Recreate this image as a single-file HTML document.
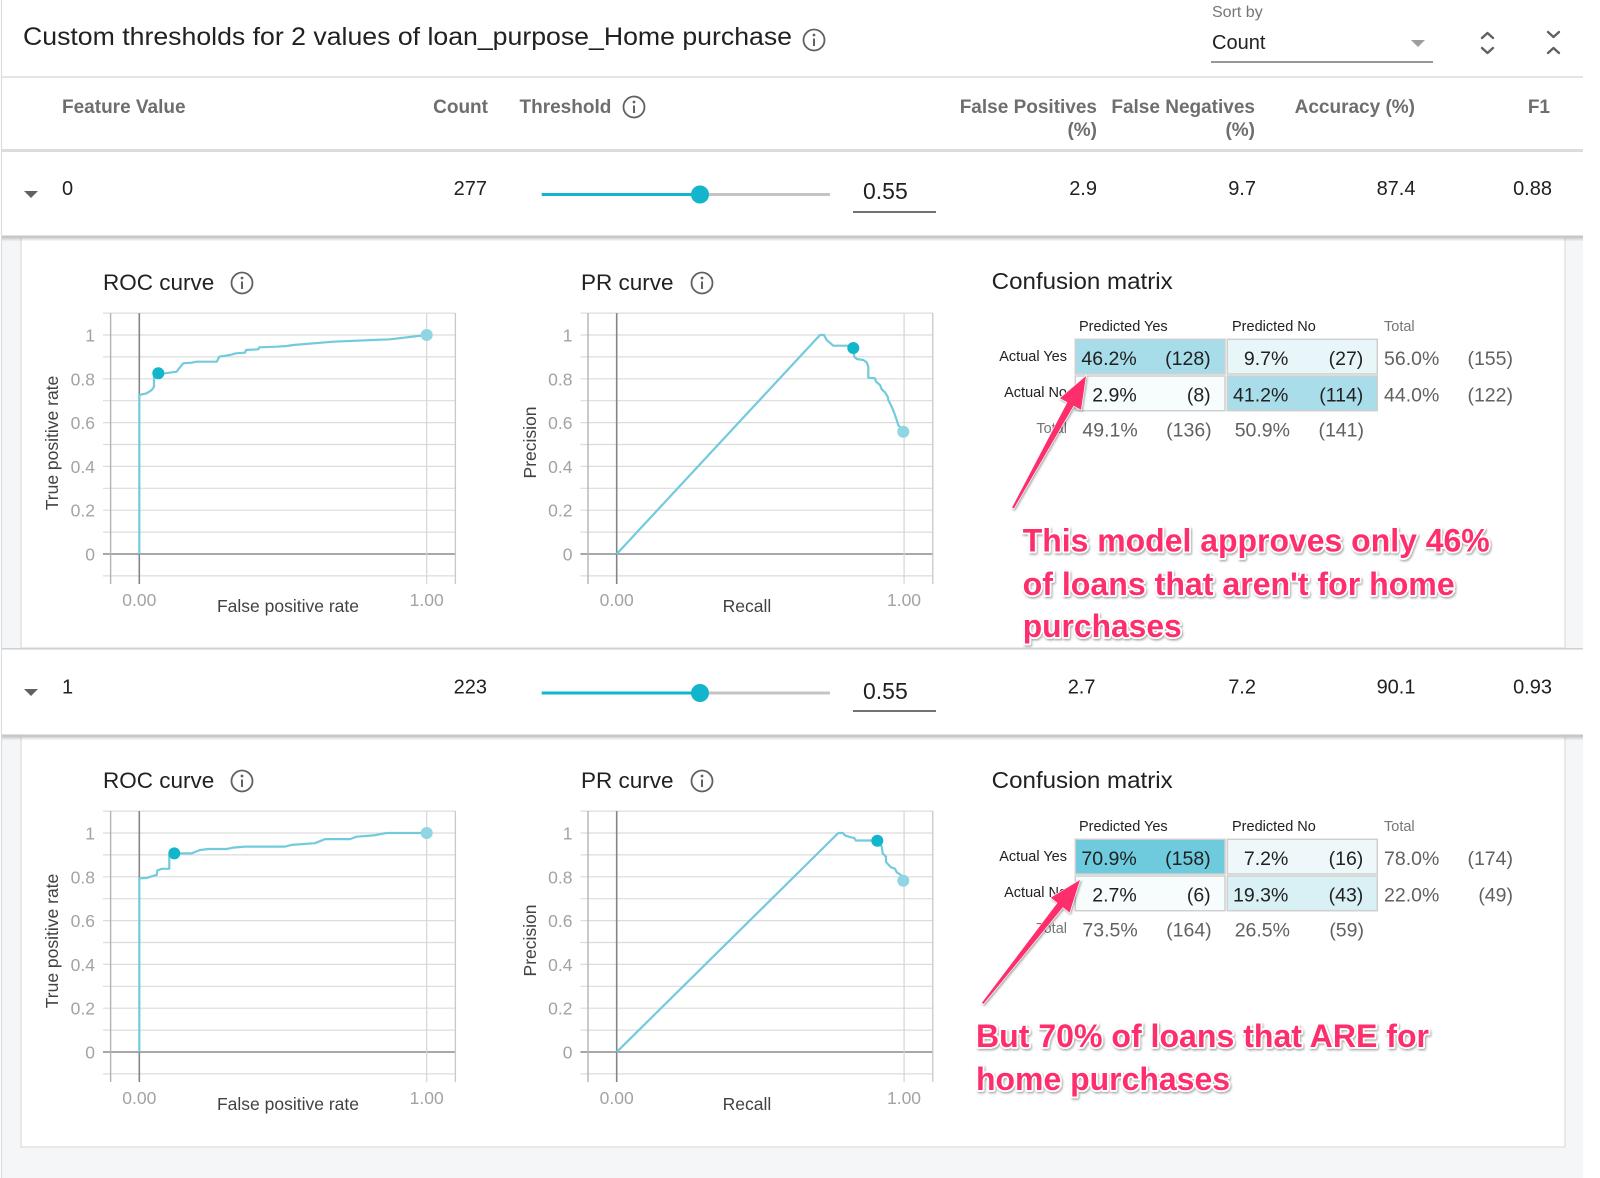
<!DOCTYPE html>
<html><head><meta charset="utf-8">
<style>
html,body{margin:0;padding:0;background:#fff;}
svg{display:block;}
text{font-family:"Liberation Sans",Arial,sans-serif;}
</style></head>
<body>
<svg width="1600" height="1178" viewBox="0 0 1600 1178" xmlns="http://www.w3.org/2000/svg">
<defs>
  <filter id="sh" x="-10%" y="-30%" width="120%" height="160%">
    <feDropShadow dx="1" dy="1.5" stdDeviation="1" flood-color="#000" flood-opacity="0.35"/>
  </filter>
  <linearGradient id="rs" x1="0" y1="0" x2="0" y2="1">
    <stop offset="0" stop-color="#000" stop-opacity="0.18"/>
    <stop offset="1" stop-color="#000" stop-opacity="0"/>
  </linearGradient>
  <g id="grid">
    <g stroke="#dcdcdc" stroke-width="1.2">
      <line x1="103" y1="313.1" x2="455.4" y2="313.1"/>
      <line x1="103" y1="335" x2="455.4" y2="335"/>
      <line x1="103" y1="356.9" x2="455.4" y2="356.9"/>
      <line x1="103" y1="378.8" x2="455.4" y2="378.8"/>
      <line x1="103" y1="400.7" x2="455.4" y2="400.7"/>
      <line x1="103" y1="422.6" x2="455.4" y2="422.6"/>
      <line x1="103" y1="444.5" x2="455.4" y2="444.5"/>
      <line x1="103" y1="466.4" x2="455.4" y2="466.4"/>
      <line x1="103" y1="488.3" x2="455.4" y2="488.3"/>
      <line x1="103" y1="510.2" x2="455.4" y2="510.2"/>
      <line x1="103" y1="532.1" x2="455.4" y2="532.1"/>
      <line x1="103" y1="575.9" x2="455.4" y2="575.9"/>
    </g>
    <line x1="103" y1="554" x2="455.4" y2="554" stroke="#8c8c8c" stroke-width="1.6"/>
    <line x1="110.6" y1="313.1" x2="110.6" y2="584" stroke="#b3b3b3" stroke-width="1.4"/>
    <line x1="139.3" y1="313.1" x2="139.3" y2="584" stroke="#858585" stroke-width="1.6"/>
    <line x1="426.7" y1="313.1" x2="426.7" y2="584" stroke="#d6d6d6" stroke-width="1.2"/>
    <line x1="455.4" y1="313.1" x2="455.4" y2="584" stroke="#c8c8c8" stroke-width="1.3"/>
  </g>
  <g id="info">
    <circle cx="0" cy="0" r="10.5" fill="none" stroke="#616161" stroke-width="1.8"/>
    <circle cx="0" cy="-5" r="1.4" fill="#616161"/>
    <line x1="0" y1="-1.5" x2="0" y2="6" stroke="#616161" stroke-width="2"/>
  </g>
</defs>

<!-- card background -->
<rect x="2" y="237" width="1581" height="941" fill="#f5f6f8"/>
<line x1="1.5" y1="0" x2="1.5" y2="1178" stroke="#dadce0" stroke-width="1.2"/>

<!-- Title area -->
<text x="23" y="45" font-size="25" fill="#212121" textLength="769" lengthAdjust="spacingAndGlyphs">Custom thresholds for 2 values of loan_purpose_Home purchase</text>
<use href="#info" x="814" y="40"/>
<text x="1212" y="17" font-size="16" fill="#757575">Sort by</text>
<text x="1212" y="49" font-size="20" fill="#212121">Count</text>
<line x1="1211" y1="62" x2="1433" y2="62" stroke="#757575" stroke-width="1.5"/>
<polygon points="1411,40 1425,40 1418,47" fill="#9e9e9e"/>
<g fill="none" stroke="#616161" stroke-width="2.4" stroke-linecap="round" stroke-linejoin="round">
  <polyline points="1482,38 1487.5,33 1493,38"/>
  <polyline points="1482,48 1487.5,53 1493,48"/>
  <polyline points="1548,32 1553.5,37 1559,32"/>
  <polyline points="1548,53 1553.5,48 1559,53"/>
</g>
<line x1="2" y1="77" x2="1583" y2="77" stroke="#dadce0" stroke-width="1.6"/>

<!-- Header -->
<g font-size="19" font-weight="bold" fill="#6e6e6e">
  <text x="62" y="113">Feature Value</text>
  <text x="488" y="113" text-anchor="end">Count</text>
  <text x="519.5" y="113">Threshold</text>
  <text x="1097" y="113" text-anchor="end">False Positives</text>
  <text x="1097" y="136" text-anchor="end">(%)</text>
  <text x="1255" y="113" text-anchor="end">False Negatives</text>
  <text x="1255" y="136" text-anchor="end">(%)</text>
  <text x="1415" y="113" text-anchor="end">Accuracy (%)</text>
  <text x="1550" y="113" text-anchor="end">F1</text>
</g>
<use href="#info" x="634" y="107"/>
<rect x="2" y="149" width="1581" height="3" fill="#dcdcdc"/>

<!-- Row 0 -->
<polygon points="24,191 38,191 31,198" fill="#616161"/>
<g font-size="20" fill="#212121">
  <text x="62" y="195">0</text>
  <text x="487" y="195" text-anchor="end">277</text>
  <text x="1097" y="195" text-anchor="end">2.9</text>
  <text x="1256" y="195" text-anchor="end">9.7</text>
  <text x="1415.5" y="195" text-anchor="end">87.4</text>
  <text x="1552" y="195" text-anchor="end">0.88</text>
</g>
<line x1="541.7" y1="194.5" x2="700" y2="194.5" stroke="#12b5cb" stroke-width="3"/>
<line x1="700" y1="194.5" x2="830" y2="194.5" stroke="#c4c4c4" stroke-width="3"/>
<circle cx="700" cy="194.5" r="9" fill="#12b5cb"/>
<text x="863" y="199" font-size="23" fill="#212121">0.55</text>
<line x1="853" y1="212" x2="936" y2="212" stroke="#444" stroke-width="1.4"/>
<rect x="2" y="235.5" width="1581" height="2" fill="#c6c6c6"/>

<!-- Panel 0 -->
<rect x="21" y="237.5" width="1544" height="410.5" fill="#fff" stroke="#dcdcdc" stroke-width="1.2"/>
<rect x="2" y="237.5" width="1581" height="4" fill="url(#rs)"/>

<!-- ROC 1 -->
<text x="103" y="290" font-size="22.5" fill="#212121">ROC curve</text>
<use href="#info" x="242" y="283"/>
<use href="#grid"/>
<g font-size="17.5" fill="#a3a3a3" text-anchor="end">
  <text x="95" y="341.5">1</text><text x="95" y="385.3">0.8</text><text x="95" y="429.1">0.6</text>
  <text x="95" y="472.9">0.4</text><text x="95" y="516.7">0.2</text><text x="95" y="560.5">0</text>
</g>
<g font-size="17.5" fill="#a3a3a3" text-anchor="middle">
  <text x="139.3" y="606">0.00</text><text x="426.7" y="606">1.00</text>
</g>
<text x="288" y="612" font-size="17.5" fill="#424242" text-anchor="middle">False positive rate</text>
<text transform="translate(58,443) rotate(-90)" font-size="17.5" fill="#424242" text-anchor="middle">True positive rate</text>
<polyline fill="none" stroke="#72cbdc" stroke-width="2.2" stroke-linejoin="round" points="139.3,554 139.3,395 146.7,393.3 151.7,390 154,386.7 154,376.7 158.3,373.3 165,373.3 176.7,371.7 178.3,369.3 183.3,363.3 191.7,362.7 196.7,361.7 216.7,361.7 219.3,356.7 230,355 236,353.3 245,352.7 246,350 258.3,349.3 259.3,347.3 276.7,346.7 286.7,346 293.3,345 333.3,341.7 390,339.3 426.7,335"/>
<circle cx="158.3" cy="373.3" r="6" fill="#12b5cb"/>
<circle cx="426.7" cy="335" r="6" fill="#8fd5e2"/>

<!-- PR 1 -->
<text x="581" y="290" font-size="22.5" fill="#212121">PR curve</text>
<use href="#info" x="702" y="283"/>
<use href="#grid" x="477.4" y="0"/>
<g font-size="17.5" fill="#a3a3a3" text-anchor="end">
  <text x="572.5" y="341.5">1</text><text x="572.5" y="385.3">0.8</text><text x="572.5" y="429.1">0.6</text>
  <text x="572.5" y="472.9">0.4</text><text x="572.5" y="516.7">0.2</text><text x="572.5" y="560.5">0</text>
</g>
<g font-size="17.5" fill="#a3a3a3" text-anchor="middle">
  <text x="616.7" y="606">0.00</text><text x="904" y="606">1.00</text>
</g>
<text x="747" y="612" font-size="17.5" fill="#424242" text-anchor="middle">Recall</text>
<text transform="translate(536,442.5) rotate(-90)" font-size="17.5" fill="#424242" text-anchor="middle">Precision</text>
<polyline fill="none" stroke="#72cbdc" stroke-width="2.2" stroke-linejoin="round" points="616.7,554 820,335 824,335 826.7,340 833.3,345.7 848.3,345.7 853.3,348 854.3,356.7 856.7,359 863.3,360 866.7,362.3 868.3,366.7 868.3,377.7 875,378.3 876,381.7 880,385 881.7,389.3 885,392.3 887.7,396.7 888.3,400 891.7,406.7 895,415 898.3,425 903.3,431.7"/>
<circle cx="853.3" cy="348" r="6" fill="#12b5cb"/>
<circle cx="903.3" cy="431.7" r="6" fill="#8fd5e2"/>

<!-- CM 1 -->
<text x="991.7" y="289" font-size="23.5" fill="#212121" textLength="181" lengthAdjust="spacingAndGlyphs">Confusion matrix</text>
<g font-size="14.5" fill="#212121">
  <text x="1079" y="331">Predicted Yes</text>
  <text x="1232" y="331">Predicted No</text>
  <text x="1384" y="331" fill="#757575">Total</text>
  <text x="1067" y="361" text-anchor="end">Actual Yes</text>
  <text x="1067" y="397" text-anchor="end">Actual No</text>
  <text x="1067" y="433" text-anchor="end" fill="#757575">Total</text>
</g>
<g stroke="#cfcfcf" stroke-width="1.5">
  <rect x="1075.3" y="339.3" width="149.7" height="34.7" fill="#a7dce9"/>
  <rect x="1227.3" y="339.3" width="150" height="34.7" fill="#e9f6f9"/>
  <rect x="1075.3" y="376" width="149.7" height="34.7" fill="#f7fcfd"/>
  <rect x="1227.3" y="376" width="150" height="34.7" fill="#a9dde9"/>
</g>
<g font-size="19.5" fill="#212121" text-anchor="end">
  <text x="1136.7" y="365">46.2%</text><text x="1210.7" y="365">(128)</text>
  <text x="1288.3" y="365">9.7%</text><text x="1363.3" y="365">(27)</text>
  <text x="1136.7" y="401.5">2.9%</text><text x="1210.7" y="401.5">(8)</text>
  <text x="1288.3" y="401.5">41.2%</text><text x="1363.3" y="401.5">(114)</text>
</g>
<g font-size="19.5" fill="#616161" text-anchor="end">
  <text x="1439.3" y="365">56.0%</text><text x="1513" y="365">(155)</text>
  <text x="1439.3" y="401.5">44.0%</text><text x="1513" y="401.5">(122)</text>
  <text x="1137.7" y="436.5">49.1%</text><text x="1211.7" y="436.5">(136)</text>
  <text x="1290" y="436.5">50.9%</text><text x="1364" y="436.5">(141)</text>
</g>

<!-- Annotation 1 -->
<g filter="url(#sh)">
  <polygon points="1013.9,508.5 1073.6,405.7 1081,409.8 1086,376 1060,398.2 1067.4,402.3 1012.1,507.5" fill="#fe2d6c" stroke="#fff" stroke-width="1.2" paint-order="stroke"/>
  <g font-size="32" font-weight="bold" fill="#fe2d6c" stroke="#fff" stroke-width="3.5" paint-order="stroke" stroke-linejoin="round">
    <text x="1022.7" y="551.7" textLength="467" lengthAdjust="spacingAndGlyphs">This model approves only 46%</text>
    <text x="1022.7" y="595" textLength="432" lengthAdjust="spacingAndGlyphs">of loans that aren't for home</text>
    <text x="1022.7" y="637" textLength="159" lengthAdjust="spacingAndGlyphs">purchases</text>
  </g>
</g>

<!-- Row 1 -->
<rect x="2" y="649" width="1581" height="86" fill="#fff"/>
<rect x="2" y="648" width="1581" height="1.6" fill="#d2d2d2"/>
<polygon points="24,689 38,689 31,696" fill="#616161"/>
<g font-size="20" fill="#212121">
  <text x="62" y="693.5">1</text>
  <text x="487" y="693.5" text-anchor="end">223</text>
  <text x="1095.5" y="693.5" text-anchor="end">2.7</text>
  <text x="1256" y="693.5" text-anchor="end">7.2</text>
  <text x="1415.5" y="693.5" text-anchor="end">90.1</text>
  <text x="1552" y="693.5" text-anchor="end">0.93</text>
</g>
<line x1="541.7" y1="693" x2="700" y2="693" stroke="#12b5cb" stroke-width="3"/>
<line x1="700" y1="693" x2="830" y2="693" stroke="#c4c4c4" stroke-width="3"/>
<circle cx="700" cy="693" r="9" fill="#12b5cb"/>
<text x="863" y="699" font-size="23" fill="#212121">0.55</text>
<line x1="853" y1="711" x2="936" y2="711" stroke="#444" stroke-width="1.4"/>
<rect x="2" y="734.5" width="1581" height="2" fill="#c6c6c6"/>

<!-- Panel 1 -->
<rect x="21" y="736.5" width="1544" height="410.5" fill="#fff" stroke="#dcdcdc" stroke-width="1.2"/>
<rect x="2" y="736.5" width="1581" height="4" fill="url(#rs)"/>

<!-- ROC 2 -->
<text x="103" y="788" font-size="22.5" fill="#212121">ROC curve</text>
<use href="#info" x="242" y="781"/>
<use href="#grid" x="0" y="498"/>
<g font-size="17.5" fill="#a3a3a3" text-anchor="end">
  <text x="95" y="839.5">1</text><text x="95" y="883.3">0.8</text><text x="95" y="927.1">0.6</text>
  <text x="95" y="970.9">0.4</text><text x="95" y="1014.7">0.2</text><text x="95" y="1058.5">0</text>
</g>
<g font-size="17.5" fill="#a3a3a3" text-anchor="middle">
  <text x="139.3" y="1104">0.00</text><text x="426.7" y="1104">1.00</text>
</g>
<text x="288" y="1110" font-size="17.5" fill="#424242" text-anchor="middle">False positive rate</text>
<text transform="translate(58,941) rotate(-90)" font-size="17.5" fill="#424242" text-anchor="middle">True positive rate</text>
<polyline fill="none" stroke="#72cbdc" stroke-width="2.2" stroke-linejoin="round" points="139.3,1052 139.3,878.3 146.7,878 151.7,876.3 156.7,875 157.3,870.5 161.7,868.8 169.3,868.8 169.3,855.8 174.3,853.4 191.7,853.4 200,850 208.3,849 226.7,849 233.3,847.6 245,846.6 285,846.6 291.7,844.9 315,843.2 325,839.1 350,839.1 356.7,836.7 373.3,835.4 386.7,833 426.7,833"/>
<circle cx="174.3" cy="853.4" r="6" fill="#12b5cb"/>
<circle cx="426.7" cy="833" r="6" fill="#8fd5e2"/>

<!-- PR 2 -->
<text x="581" y="788" font-size="22.5" fill="#212121">PR curve</text>
<use href="#info" x="702" y="781"/>
<use href="#grid" x="477.4" y="498"/>
<g font-size="17.5" fill="#a3a3a3" text-anchor="end">
  <text x="572.5" y="839.5">1</text><text x="572.5" y="883.3">0.8</text><text x="572.5" y="927.1">0.6</text>
  <text x="572.5" y="970.9">0.4</text><text x="572.5" y="1014.7">0.2</text><text x="572.5" y="1058.5">0</text>
</g>
<g font-size="17.5" fill="#a3a3a3" text-anchor="middle">
  <text x="616.7" y="1104">0.00</text><text x="904" y="1104">1.00</text>
</g>
<text x="747" y="1110" font-size="17.5" fill="#424242" text-anchor="middle">Recall</text>
<text transform="translate(536,940.5) rotate(-90)" font-size="17.5" fill="#424242" text-anchor="middle">Precision</text>
<polyline fill="none" stroke="#72cbdc" stroke-width="2.2" stroke-linejoin="round" points="616.7,1052 838.3,833 842.7,833 845,835.4 850,837.1 854.3,838.1 855.7,840.5 873.3,840.5 877.3,840.8 881.7,846.6 882.7,853.4 886,856.8 886,862 890.7,867.1 895,868.8 896.7,872.2 901.7,875.6 903.3,880.7"/>
<circle cx="877.3" cy="840.8" r="6" fill="#12b5cb"/>
<circle cx="903.3" cy="880.7" r="6" fill="#8fd5e2"/>

<!-- CM 2 -->
<text x="991.7" y="788" font-size="23.5" fill="#212121" textLength="181" lengthAdjust="spacingAndGlyphs">Confusion matrix</text>
<g font-size="14.5" fill="#212121">
  <text x="1079" y="831">Predicted Yes</text>
  <text x="1232" y="831">Predicted No</text>
  <text x="1384" y="831" fill="#757575">Total</text>
  <text x="1067" y="861" text-anchor="end">Actual Yes</text>
  <text x="1067" y="897" text-anchor="end">Actual No</text>
  <text x="1067" y="933" text-anchor="end" fill="#757575">Total</text>
</g>
<g stroke="#cfcfcf" stroke-width="1.5">
  <rect x="1075.3" y="839.3" width="149.7" height="34.7" fill="#6ecadd"/>
  <rect x="1227.3" y="839.3" width="150" height="34.7" fill="#eef8fa"/>
  <rect x="1075.3" y="876" width="149.7" height="34.7" fill="#f7fcfd"/>
  <rect x="1227.3" y="876" width="150" height="34.7" fill="#d9f0f5"/>
</g>
<g font-size="19.5" fill="#212121" text-anchor="end">
  <text x="1136.7" y="865">70.9%</text><text x="1210.7" y="865">(158)</text>
  <text x="1288.3" y="865">7.2%</text><text x="1363.3" y="865">(16)</text>
  <text x="1136.7" y="901.5">2.7%</text><text x="1210.7" y="901.5">(6)</text>
  <text x="1288.3" y="901.5">19.3%</text><text x="1363.3" y="901.5">(43)</text>
</g>
<g font-size="19.5" fill="#616161" text-anchor="end">
  <text x="1439.3" y="865">78.0%</text><text x="1513" y="865">(174)</text>
  <text x="1439.3" y="901.5">22.0%</text><text x="1513" y="901.5">(49)</text>
  <text x="1137.7" y="936.5">73.5%</text><text x="1211.7" y="936.5">(164)</text>
  <text x="1290" y="936.5">26.5%</text><text x="1364" y="936.5">(59)</text>
</g>

<!-- Annotation 2 -->
<g filter="url(#sh)">
  <polygon points="983.5,1003.9 1062.9,907.3 1069.6,912.5 1080,880 1050.8,897.7 1057.5,902.9 981.9,1002.7" fill="#fe2d6c" stroke="#fff" stroke-width="1.2" paint-order="stroke"/>
  <g font-size="32" font-weight="bold" fill="#fe2d6c" stroke="#fff" stroke-width="3.5" paint-order="stroke" stroke-linejoin="round">
    <text x="976" y="1047" textLength="453" lengthAdjust="spacingAndGlyphs">But 70% of loans that ARE for</text>
    <text x="976" y="1090" textLength="254" lengthAdjust="spacingAndGlyphs">home purchases</text>
  </g>
</g>

<!-- right white margin -->
<rect x="1583.5" y="0" width="16.5" height="1178" fill="#fff"/>
</svg>
</body></html>
